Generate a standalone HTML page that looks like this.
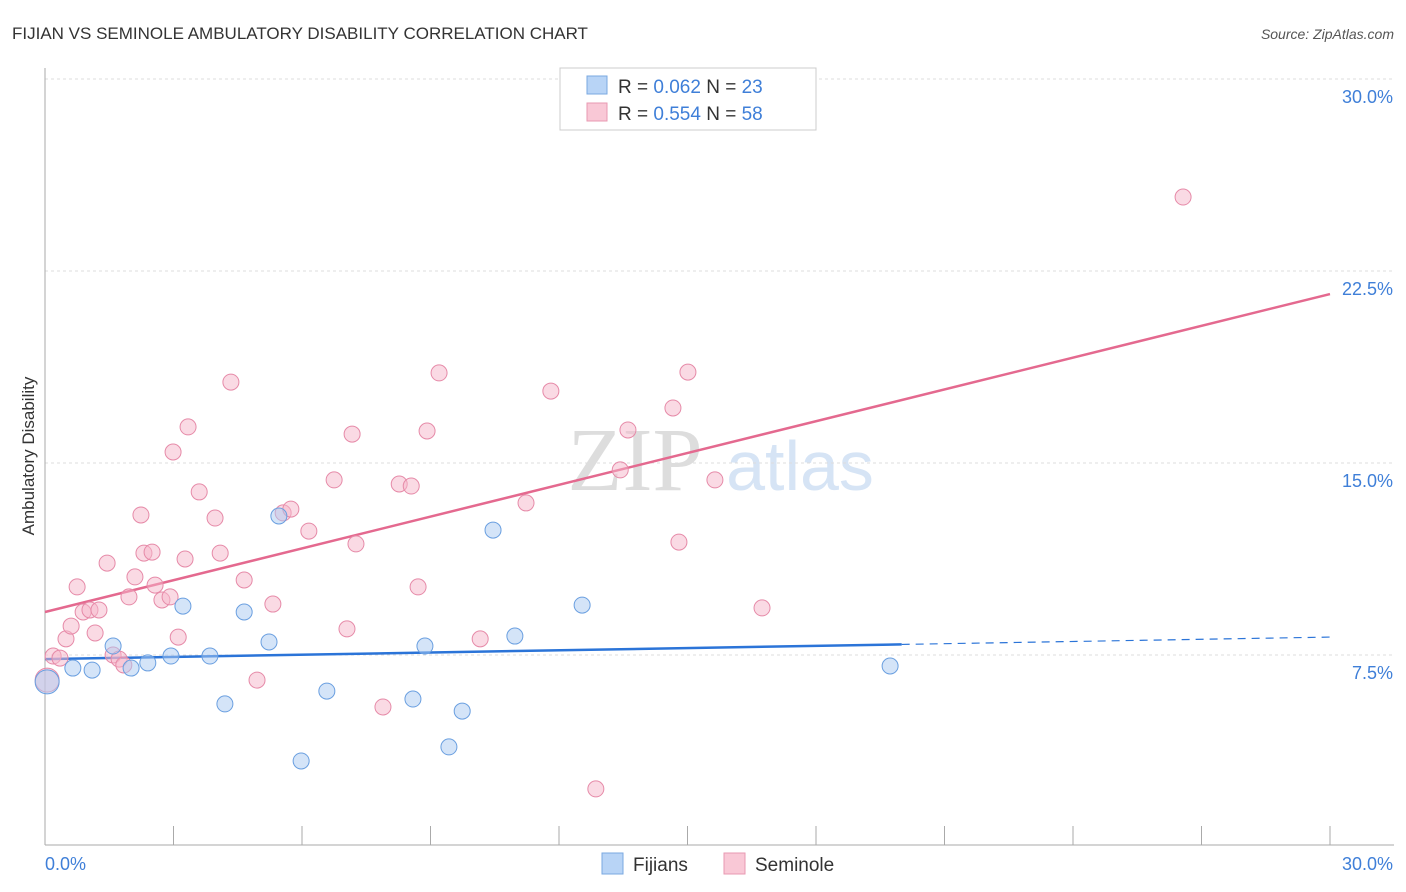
<!DOCTYPE html>
<html><head><meta charset="utf-8"><style>
body{margin:0;background:#fff;font-family:"Liberation Sans",sans-serif;}
svg{display:block}
</style></head><body>
<svg width="1406" height="892" id="chart">
<text x="12" y="39" font-size="17" fill="#333">FIJIAN VS SEMINOLE AMBULATORY DISABILITY CORRELATION CHART</text>
<text x="1394" y="39" font-size="14" fill="#555" text-anchor="end" font-style="italic">Source: ZipAtlas.com</text>
<text x="635" y="490" font-size="90" fill="#ddd" font-family="Liberation Serif,serif" text-anchor="middle">ZIP</text>
<text x="800" y="490" font-size="70" fill="#d6e4f5" text-anchor="middle">atlas</text>
<text x="34" y="456" font-size="17" fill="#333" transform="rotate(-90 34 456)" text-anchor="middle">Ambulatory Disability</text>
<g id="grid"></g><g id="axes"></g><g id="lines"></g><g id="pts"></g>
<g>
<rect x="560" y="68" width="256" height="62" fill="#fff" stroke="#ccc"/>
<rect x="587" y="76" width="20" height="18" fill="#b8d4f6" stroke="#7aa8e0"/>
<text x="618" y="93" font-size="19" fill="#333">R = <tspan fill="#3f7fd8">0.062</tspan>   N = <tspan fill="#3f7fd8">23</tspan></text>
<rect x="587" y="103" width="20" height="18" fill="#f9c8d6" stroke="#e899b2"/>
<text x="618" y="120" font-size="19" fill="#333">R = <tspan fill="#3f7fd8">0.554</tspan>   N = <tspan fill="#3f7fd8">58</tspan></text>
</g>
<g>
<rect x="602" y="853" width="21" height="21" fill="#b8d4f6" stroke="#7aa8e0"/>
<text x="633" y="871" font-size="19" fill="#333">Fijians</text>
<rect x="724" y="853" width="21" height="21" fill="#f9c8d6" stroke="#e899b2"/>
<text x="755" y="871" font-size="19" fill="#333">Seminole</text>
</g>
</svg>
<script>
const yTicks=[7.5,15,22.5,30];
const yTickLabels=["7.5%","15.0%","22.5%","30.0%"];
const fijX=[0.05,0.65,1.10,1.59,2.01,2.40,2.94,3.22,3.85,4.20,4.65,5.23,5.46,5.98,6.58,8.59,8.87,9.43,9.74,10.46,10.97,12.54,19.73];
const fijY=[6.45,6.99,6.91,7.85,6.99,7.19,7.46,9.41,7.46,5.59,9.18,8.01,12.93,3.36,6.09,5.78,7.85,3.91,5.31,12.38,8.24,9.45,7.07];
const semX=[0.05,0.19,0.35,0.49,0.61,0.75,0.89,1.05,1.17,1.26,1.45,1.59,1.73,1.84,1.96,2.10,2.24,2.31,2.50,2.57,2.73,2.92,2.99,3.11,3.27,3.34,3.60,3.97,4.09,4.34,4.65,4.95,5.32,5.56,5.74,6.16,6.75,7.05,7.17,7.26,7.89,8.27,8.55,8.71,8.92,9.20,10.16,11.23,11.81,12.86,13.43,13.61,14.66,14.80,15.01,15.64,16.74,26.57];
const semY=[6.52,7.46,7.38,8.13,8.63,10.16,9.18,9.26,8.36,9.26,11.09,7.5,7.34,7.11,9.77,10.55,12.97,11.48,11.52,10.23,9.65,9.77,15.43,8.20,11.25,16.41,13.87,12.85,11.48,18.16,10.43,6.52,9.49,13.05,13.20,12.34,14.34,8.52,16.13,11.84,5.47,14.18,14.10,10.16,16.25,18.52,8.13,13.44,17.81,2.27,14.73,16.29,17.15,11.91,18.55,14.34,9.34,25.39];
const fijTrend=[7.34,8.20]; // value at x=0 and x=30
const semTrend=[9.18,21.6];
const NS="http://www.w3.org/2000/svg";
const X=v=>45+v*(1285/30), Y=v=>847-v*25.6;
function mk(p,t,a){const e=document.createElementNS(NS,t);for(const k in a)e.setAttribute(k,a[k]);document.getElementById(p).appendChild(e);return e;}
yTicks.forEach((t,i)=>{
 let l=mk('grid','line',{x1:45,x2:1394,y1:Y(t),y2:Y(t),stroke:'#ddd','stroke-dasharray':'3,3'});
 
 
 let tx=mk('grid','text',{x:1393,y:Y(t)+24,'font-size':18,fill:'#3f7fd8','text-anchor':'end'});tx.textContent=yTickLabels[i];
 
 
});
let ax=mk('axes','line',{x1:45,x2:45,y1:68,y2:845,stroke:'#aaa'});


let bx=mk('axes','line',{x1:45,x2:1394,y1:845,y2:845,stroke:'#aaa'});


for(let i=0;i<=10;i++){let t=mk('axes','line',{x1:X(i*3),x2:X(i*3),y1:826,y2:845,stroke:'#aaa'});
 
 }
[["0.0%",45,'start'],["30.0%",1393,'end']].forEach(a=>{let t=mk('axes','text',{x:a[1],y:870,'font-size':18,fill:'#3f7fd8','text-anchor':a[2]});t.textContent=a[0];
 
 });
function pts(xs,ys,fill,st,name){xs.forEach((x,i)=>{let c=mk('pts','circle',{cx:X(x),cy:Y(ys[i]),r:i==0?12:8,fill:fill,'fill-opacity':0.5,stroke:st,'stroke-width':1});
 
 });}
pts(semX,semY,'#f6b6ca','#e68aa8','seminole-point');
pts(fijX,fijY,'#a9c9f2','#6a9fe0','fijian-point');
const bf=v=>fijTrend[0]+(fijTrend[1]-fijTrend[0])*v/30;
let l1=mk('lines','line',{x1:X(0),y1:Y(bf(0)),x2:X(20),y2:Y(bf(20)),stroke:'#2b74d8','stroke-width':2.5});


let l2=mk('lines','line',{x1:X(20),y1:Y(bf(20)),x2:X(30),y2:Y(bf(30)),stroke:'#2b74d8','stroke-width':1.2,'stroke-dasharray':'8,6'});


let l3=mk('lines','line',{x1:X(0),y1:Y(semTrend[0]),x2:X(30),y2:Y(semTrend[1]),stroke:'#e4698f','stroke-width':2.5});


</script>
</body></html>
